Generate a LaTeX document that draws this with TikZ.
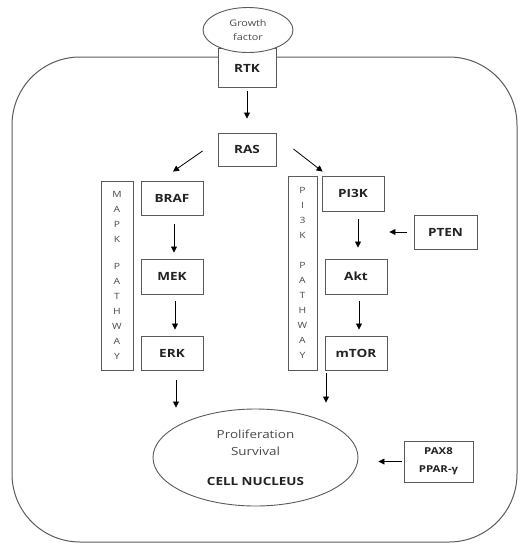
\documentclass[tikz,border=0pt]{standalone}
\usepackage{fontspec}
\setmainfont{Open Sans}[FakeStretch=1.2]
\usetikzlibrary{arrows.meta, shapes.geometric, calc}
\definecolor{cline}{HTML}{5A5A5A}
\definecolor{ctext}{HTML}{4A4A4A}
\definecolor{cdark}{HTML}{222222}
\tikzset{
  every picture/.style={x=1pt, y=-1pt, line width=0.9pt},
  box/.style={draw=cline, fill=white, inner sep=0pt, minimum width=#1, font=\bfseries\fontsize{11.3}{13}\selectfont, text=cdark, align=center},
  box/.default=62pt,
  pathbox/.style={draw=cline, inner sep=0pt, minimum height=#1, font=\fontsize{8.6}{15}\selectfont, text=ctext, align=center},
  oval/.style={ellipse, draw=cline, fill=white, inner sep=0pt, align=center},
  arrow/.style={-{Triangle[length=6pt, width=6pt]}, draw=black, line width=0.8pt},
  wall/.style={draw=cline, line width=1pt, rounded corners=68pt},
}
\begin{document}
\begin{tikzpicture}
  \useasboundingbox (0,0) rectangle (528,550);
  % cell membrane
  \draw[wall] (12,57) rectangle (517,542);
  \node[box=58pt, minimum height=39pt] (rtk) at (247,67.5) {\raisebox{-10pt}{RTK}};
  \node[oval, minimum width=90pt, minimum height=45pt, font=\fontsize{9}{14}\selectfont, text=ctext] (gf) at (248,30) {Growth\\factor};
  \node[box=58pt, minimum height=33pt] (ras) at (247,149.5) {RAS};
  % MAPK side
  \node[pathbox=189pt, minimum width=32pt] (mapk) at (117,275.5) {M\\A\\P\\K\\[11.7pt]P\\A\\T\\H\\W\\A\\Y};
  \node[box, minimum height=34pt] (braf) at (172,198) {BRAF};
  \node[box, minimum height=35pt] (mek) at (172,276.5) {MEK};
  \node[box, minimum height=34pt] (erk) at (172,353) {ERK};
  % PI3K side
  \node[pathbox=194pt, minimum width=29pt] (pikpath) at (302.5,273) {P\\I\\3\\K\\[15pt]P\\A\\T\\H\\W\\A\\Y};
  \node[box, minimum height=35pt] (pik) at (353,193.5) {PI3K};
  \node[box, minimum height=35pt] (akt) at (356,276.5) {Akt};
  \node[box, minimum height=34pt] (mtor) at (356,353) {mTOR};
  \node[box=63pt, minimum height=34pt] (pten) at (445.5,232) {PTEN};
  % nucleus
  \node[oval, minimum width=205pt, minimum height=97pt, font=\fontsize{11.2}{17}\selectfont, text=ctext] (nuc) at (255.5,457.5) {Proliferation\\Survival\\[13pt]{\bfseries\color{cdark}CELL NUCLEUS}};
  \node[box=69pt, minimum height=41pt, font=\bfseries\fontsize{9.5}{18}\selectfont] (pax) at (438.5,461.5) {PAX8\\PPAR-γ};
  \coordinate (erkout) at ([xshift=4pt]erk.south);
  \coordinate (mtorout) at ([xshift=-30pt]mtor.south);
  % signalling arrows
  \draw[arrow, shorten <=4pt, shorten >=14pt] (rtk) -- (ras);
  \draw[arrow] ([shift={(-15,1.5)}]ras.west) -- ([shift={(1,-9)}]braf.north);
  \draw[arrow] ([shift={(17,-0.5)}]ras.east) -- ([shift={(1,-4)}]pik.north west);
  \draw[arrow, shorten <=9pt, shorten >=6pt] ([xshift=2pt]braf.south) -- ([xshift=2pt]mek.north);
  \draw[arrow, shorten <=7pt, shorten >=6pt] ([xshift=3pt]mek.south) -- ([xshift=3pt]erk.north);
  \draw[arrow, shorten <=10pt, shorten >=1pt] (erkout) -- (erkout |- nuc.north);
  \draw[arrow, shorten <=8pt, shorten >=11pt] ([xshift=2pt]akt.north |- pik.south) -- ([xshift=2pt]akt.north);
  \draw[arrow, shorten <=7pt, shorten >=6pt] ([xshift=3pt]akt.south) -- ([xshift=3pt]mtor.north);
  \draw[arrow, shorten <=3pt, shorten >=6pt] (mtorout) -- (mtorout |- nuc.north);
  \draw[arrow, shorten <=7pt, shorten >=2pt] (pten.west) -- (pten.west -| akt.east);
  \draw[arrow, shorten <=2pt, shorten >=20pt] (pax.west) -- (pax.west -| nuc.east);
\end{tikzpicture}
\end{document}
